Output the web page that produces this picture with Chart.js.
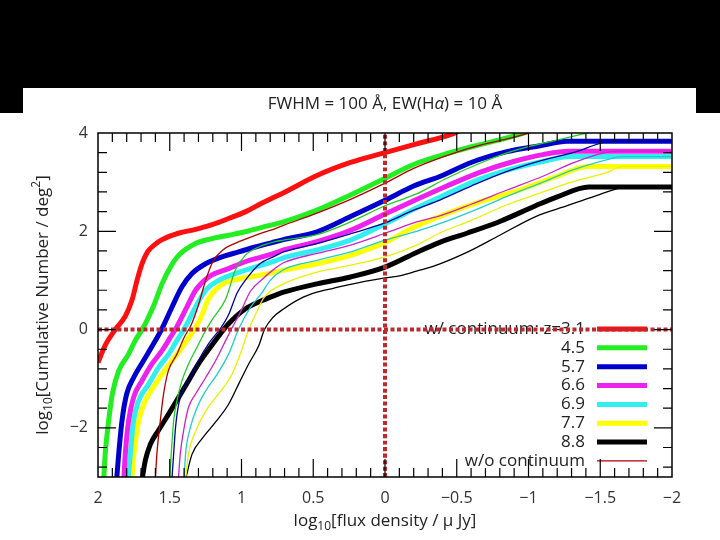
<!DOCTYPE html>
<html>
<head>
<meta charset="utf-8">
<script src="https://cdn.jsdelivr.net/npm/chart.js@4.4.0/dist/chart.umd.min.js"></script>
<style>
body{margin:0;background:#000;}
canvas{display:block;}
</style>
</head>
<body>
<canvas id="cumChart" width="720" height="540"></canvas>
<script>
const xTicks=[2,1.5,1,0.5,0,-0.5,-1,-1.5,-2];
const yTicks=[4,2,0,-2];
const legendLabels=['w/ continuum: z=3.1','4.5','5.7','6.6','6.9','7.7','8.8','w/o continuum'];
const colors=['#ff1010','#22ee22','#0000cc','#ee22ee','#33eeee','#ffff00','#000000'];
const thinColors=['#b00000','#22cc22','#000099','#cc22cc','#22cccc','#eeee00','#000000'];

/* w/ continuum (thick) : [log flux, log N] */
const cont31=[[2.0,-0.67],[1.95,-0.32],[1.88,0.0],[1.81,0.27],[1.763,0.60],[1.728,1.0],[1.693,1.34],[1.655,1.58],[1.60,1.74],[1.554,1.83],[1.44,1.96],[1.32,2.04],[1.21,2.13],[1.09,2.26],[0.97,2.40],[0.86,2.57],[0.71,2.78],[0.47,3.14],[0.24,3.40],[0.0,3.60],[-0.22,3.78],[-0.46,3.97],[-0.52,4.05]];
const cont45=[[1.96,-3.05],[1.95,-2.54],[1.926,-1.86],[1.90,-1.31],[1.856,-0.84],[1.787,-0.50],[1.74,-0.22],[1.69,0.01],[1.66,0.18],[1.61,0.50],[1.554,0.93],[1.496,1.27],[1.438,1.51],[1.32,1.75],[1.206,1.85],[1.09,1.92],[0.974,1.99],[0.857,2.08],[0.707,2.19],[0.474,2.43],[0.24,2.74],[0.0,3.08],[-0.2,3.36],[-0.386,3.54],[-0.617,3.73],[-0.85,3.90],[-0.99,4.02]];
const cont57=[[1.87,-3.05],[1.856,-2.54],[1.833,-1.86],[1.80,-1.31],[1.752,-0.98],[1.682,-0.63],[1.613,-0.29],[1.556,0.01],[1.484,0.46],[1.415,0.87],[1.345,1.14],[1.25,1.34],[1.136,1.48],[1.02,1.58],[0.904,1.68],[0.787,1.77],[0.707,1.83],[0.474,1.99],[0.24,2.30],[0.0,2.63],[-0.20,2.92],[-0.386,3.12],[-0.60,3.40],[-0.85,3.62],[-1.08,3.74],[-1.27,3.83],[-2.0,3.83]];
const cont66=[[1.82,-3.05],[1.81,-2.54],[1.787,-1.86],[1.752,-1.38],[1.693,-1.04],[1.624,-0.70],[1.554,-0.43],[1.496,-0.16],[1.45,0.06],[1.38,0.46],[1.32,0.80],[1.229,1.07],[1.09,1.24],[0.974,1.38],[0.857,1.48],[0.764,1.56],[0.707,1.62],[0.474,1.79],[0.24,2.02],[0.0,2.35],[-0.2,2.62],[-0.43,2.92],[-0.66,3.20],[-0.896,3.42],[-1.1,3.56],[-1.28,3.63],[-2.0,3.63]];
const cont69=[[1.79,-3.05],[1.775,-2.54],[1.752,-1.86],[1.717,-1.45],[1.647,-1.11],[1.578,-0.77],[1.508,-0.50],[1.45,-0.22],[1.40,0.01],[1.32,0.46],[1.25,0.80],[1.16,1.0],[1.043,1.14],[0.904,1.27],[0.764,1.40],[0.707,1.46],[0.474,1.62],[0.24,1.82],[0.0,2.15],[-0.2,2.45],[-0.43,2.76],[-0.66,3.06],[-0.896,3.28],[-1.1,3.42],[-1.29,3.52],[-2.0,3.52]];
const cont77=[[1.765,-3.05],[1.75,-2.54],[1.717,-1.86],[1.67,-1.45],[1.60,-1.11],[1.52,-0.77],[1.45,-0.50],[1.38,-0.22],[1.33,0.0],[1.287,0.22],[1.23,0.62],[1.136,0.92],[1.02,1.03],[0.904,1.09],[0.764,1.17],[0.707,1.21],[0.474,1.34],[0.24,1.51],[0.0,1.77],[-0.2,2.08],[-0.43,2.36],[-0.66,2.60],[-0.896,2.80],[-1.2,3.12],[-1.41,3.32],[-2.0,3.32]];
const cont88=[[1.693,-3.05],[1.67,-2.66],[1.636,-2.34],[1.578,-2.05],[1.508,-1.72],[1.438,-1.38],[1.369,-1.04],[1.30,-0.70],[1.217,-0.36],[1.148,-0.09],[1.09,0.12],[0.974,0.42],[0.857,0.59],[0.764,0.70],[0.707,0.76],[0.474,0.93],[0.24,1.07],[0.0,1.27],[-0.22,1.57],[-0.386,1.78],[-0.57,1.96],[-0.80,2.20],[-1.05,2.52],[-1.2,2.70],[-1.42,2.90],[-2.0,2.90]];

/* w/o continuum (thin) */
const noCont31=[[1.60,-3.05],[1.59,-2.54],[1.566,-1.86],[1.543,-1.31],[1.51,-0.84],[1.45,-0.50],[1.40,-0.16],[1.35,0.10],[1.30,0.50],[1.25,1.0],[1.20,1.38],[1.13,1.62],[1.04,1.76],[0.9,1.92],[0.76,2.06],[0.707,2.12],[0.474,2.37],[0.24,2.65],[0.0,2.98],[-0.2,3.28],[-0.39,3.50],[-0.62,3.72],[-0.85,3.88],[-1.03,4.02]];
const noCont45=[[1.50,-3.05],[1.49,-2.54],[1.473,-1.86],[1.45,-1.45],[1.415,-1.04],[1.369,-0.70],[1.31,-0.36],[1.25,-0.02],[1.20,0.22],[1.11,0.62],[1.043,1.21],[0.974,1.51],[0.88,1.68],[0.764,1.79],[0.707,1.82],[0.474,1.93],[0.24,2.19],[0.0,2.52],[-0.22,2.76],[-0.43,3.08],[-0.70,3.43],[-0.9,3.64],[-1.22,3.87],[-1.44,4.02]];
const noCont57=[[1.485,-3.05],[1.473,-2.54],[1.46,-2.0],[1.438,-1.52],[1.40,-1.18],[1.345,-0.91],[1.30,-0.63],[1.23,-0.29],[1.14,0.05],[1.09,0.30],[1.03,0.75],[0.974,1.0],[0.88,1.32],[0.764,1.50],[0.707,1.58],[0.474,1.75],[0.24,1.95],[0.0,2.17],[-0.2,2.43],[-0.386,2.64],[-0.6,2.92],[-0.85,3.22],[-1.1,3.45],[-1.31,3.60],[-1.58,3.83],[-2.0,3.83]];
const noCont66=[[1.44,-3.05],[1.427,-2.54],[1.40,-2.0],[1.37,-1.59],[1.32,-1.31],[1.25,-0.98],[1.18,-0.63],[1.11,-0.22],[1.07,0.01],[1.0,0.40],[0.938,0.78],[0.857,1.02],[0.764,1.25],[0.707,1.36],[0.474,1.55],[0.24,1.72],[0.0,1.96],[-0.22,2.19],[-0.386,2.32],[-0.6,2.55],[-0.85,2.84],[-1.1,3.12],[-1.31,3.39],[-1.52,3.59],[-1.62,3.63],[-2.0,3.63]];
const noCont69=[[1.40,-3.05],[1.39,-2.54],[1.357,-2.0],[1.31,-1.59],[1.25,-1.25],[1.17,-0.91],[1.09,-0.50],[1.02,0.01],[0.938,0.45],[0.857,0.75],[0.80,1.0],[0.707,1.22],[0.474,1.41],[0.24,1.58],[0.0,1.82],[-0.22,2.0],[-0.386,2.16],[-0.6,2.40],[-0.85,2.71],[-1.1,3.0],[-1.31,3.25],[-1.59,3.49],[-1.64,3.52],[-2.0,3.52]];
const noCont77=[[1.39,-3.05],[1.37,-2.54],[1.32,-2.07],[1.25,-1.66],[1.16,-1.31],[1.066,-0.91],[1.0,-0.43],[0.95,0.0],[0.90,0.32],[0.846,0.64],[0.707,0.93],[0.474,1.17],[0.24,1.31],[0.0,1.48],[-0.22,1.72],[-0.386,1.97],[-0.6,2.22],[-0.85,2.54],[-1.1,2.80],[-1.31,3.01],[-1.55,3.20],[-1.66,3.32],[-2.0,3.32]];
const noCont88=[[1.39,-3.05],[1.345,-2.54],[1.275,-2.22],[1.18,-1.88],[1.09,-1.52],[1.02,-1.11],[0.95,-0.70],[0.88,-0.33],[0.84,0.0],[0.78,0.25],[0.707,0.42],[0.59,0.63],[0.474,0.76],[0.36,0.84],[0.24,0.92],[0.0,1.05],[-0.109,1.10],[-0.22,1.19],[-0.34,1.29],[-0.57,1.57],[-0.80,1.92],[-1.05,2.30],[-1.27,2.52],[-1.45,2.70],[-1.69,2.90],[-2.0,2.90]];

const thick=[cont31,cont45,cont57,cont66,cont69,cont77,cont88];
const thin=[noCont31,noCont45,noCont57,noCont66,noCont69,noCont77,noCont88];
const xy=s=>s.map(p=>({x:p[0],y:p[1]}));

const datasets=[];
// dotted reference lines
datasets.push({data:[{x:2,y:0},{x:-2,y:0}],borderColor:'#bd2a2e',borderWidth:4,borderDash:[4,2.5],order:0});
datasets.push({data:[{x:0,y:-3},{x:0,y:4}],borderColor:'#bd2a2e',borderWidth:4,borderDash:[4,2.5],order:0});
thin.forEach((s,i)=>datasets.push({data:xy(s),borderColor:thinColors[i],borderWidth:1.3,order:1}));
thick.forEach((s,i)=>datasets.push({data:xy(s),borderColor:colors[i],borderWidth:5,order:2}));

const FONT='"Open Sans", "DejaVu Sans", sans-serif';
const TXT='#222';

function fontFor(m,size){
if(m==='sub'||m==='sup') return Math.round(size*0.68)+'px '+FONT;
if(m==='it') return 'italic '+size+'px '+FONT;
return size+'px '+FONT;
}
function rich(ctx,parts,size){
// parts: [text, mode] mode: n / sub / sup / it
let w=0;
parts.forEach(p=>{ctx.font=fontFor(p[1],size);w+=ctx.measureText(p[0]).width;});
let x=-w/2;
parts.forEach(p=>{
ctx.font=fontFor(p[1],size);
let dy=p[1]==='sub'?size*0.32:p[1]==='sup'?-size*0.38:0;
ctx.fillText(p[0],x,dy);
x+=ctx.measureText(p[0]).width;
});
}

const decor={
id:'decor',
beforeDraw(chart){
const c=chart.ctx;
c.save();
c.fillStyle='#000';c.fillRect(0,0,720,540);
c.fillStyle='#fff';
c.fillRect(23,88,673,30);
c.fillRect(0,113,720,427);
c.restore();
},
beforeDatasetsDraw(chart){
const c=chart.ctx;
c.save();
c.textAlign='right';c.textBaseline='middle';c.fillStyle=TXT;c.font='17px '+FONT;
legendLabels.forEach((t,i)=>{
const y=329+i*18.85;
c.fillText(t,585,y);
c.beginPath();c.moveTo(597,y);c.lineTo(647,y);
c.strokeStyle=i<7?colors[i]:thinColors[0];
c.lineWidth=i<7?5:1.3;
c.stroke();
});
c.restore();
},
afterDatasetsDraw(chart){
const c=chart.ctx,a=chart.chartArea,x=chart.scales.x,y=chart.scales.y;
c.save();
c.strokeStyle='#000';c.lineWidth=1.5;
c.strokeRect(a.left,a.top,a.right-a.left,a.bottom-a.top);
c.lineWidth=1.2;c.beginPath();
for(let i=-19;i<=19;i++){
const px=x.getPixelForValue(i/10),len=i%5===0?18:9;
c.moveTo(px,a.bottom);c.lineTo(px,a.bottom-len);
c.moveTo(px,a.top);c.lineTo(px,a.top+len);
}
for(let i=-7;i<=9;i++){
const py=y.getPixelForValue(i*0.4),len=i%5===0?18:9;
c.moveTo(a.left,py);c.lineTo(a.left+len,py);
c.moveTo(a.right,py);c.lineTo(a.right-len,py);
}
c.stroke();
// titles
c.fillStyle=TXT;c.textAlign='left';c.textBaseline='middle';
c.save();c.translate((a.left+a.right)/2,104);
rich(c,[['FWHM = 100 Å, EW(H','n'],['α','it'],[') = 10 Å','n']],17);
c.restore();
c.save();c.translate((a.left+a.right)/2,521);
rich(c,[['log','n'],['10','sub'],['[flux density / μ Jy]','n']],17);
c.restore();
c.save();c.translate(43,(a.top+a.bottom)/2);c.rotate(-Math.PI/2);
rich(c,[['log','n'],['10','sub'],['[Cumulative Number / deg','n'],['2','sup'],[']','n']],17);
c.restore();
c.restore();
}
};

const fmt=v=>v<0?'\u2212'+Math.abs(v):String(v);

new Chart(document.getElementById('cumChart'),{
type:'line',
data:{datasets:datasets},
options:{
responsive:false,
animation:false,
layout:{padding:{left:0,right:48,top:133,bottom:0}},
elements:{point:{radius:0},line:{cubicInterpolationMode:'monotone'}},
plugins:{legend:{display:false},tooltip:{enabled:false}},
scales:{
x:{type:'linear',reverse:true,min:-2,max:2,
grid:{display:false,drawTicks:false},border:{display:false},
afterBuildTicks:s=>{s.ticks=xTicks.map(v=>({value:v}));},
afterFit:s=>{s.height=63;},
ticks:{callback:fmt,padding:12,color:'#333',font:{family:FONT,size:16},maxRotation:0,autoSkip:false}},
y:{type:'linear',min:-3,max:4,
grid:{display:false,drawTicks:false},border:{display:false},
afterBuildTicks:s=>{s.ticks=yTicks.map(v=>({value:v}));},
afterFit:s=>{s.width=98;},
ticks:{callback:fmt,padding:10,color:'#333',font:{family:FONT,size:16}}}
}
},
plugins:[decor]
});
</script>
</body>
</html>
